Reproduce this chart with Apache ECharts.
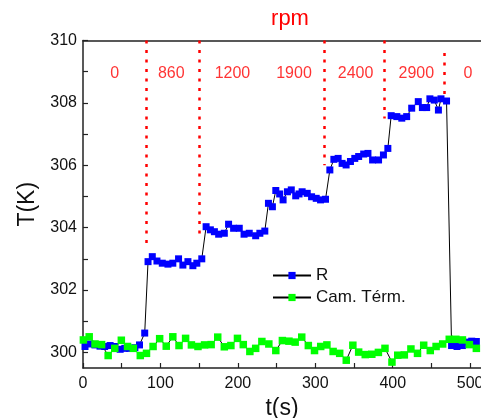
<!DOCTYPE html>
<html><head><meta charset="utf-8">
<script src="https://cdn.jsdelivr.net/npm/echarts@6/dist/echarts.min.js"></script>
<style>html,body{margin:0;padding:0;background:#fff}#c{width:481px;height:418px}</style>
</head><body><div id="c"></div>
<script>
const blueT = [2.6,9,15.4,22,28,35,41,48,54,60,67,73,79.7,
  84,89.5,95.5,102.4,109.7,116,123.4,129,135.5,141.9,147,153.4,
  159,164.5,169.7,175.2,182.5,188,194.5,201.8,208,214.7,223,228.4,234.8,
  239.5,244.6,249,254,258.4,264,269,274.7,279,283,289.6,295.2,301.2,306.8,313.2,
  318.8,324,329.5,334.6,339.8,345.4,351,356,362.5,368,374,381.7,388,393.7,
  398,405.3,411.7,418,424.5,433,438.3,443.8,448,453.7,459,462.3,469.5,
  476,483,490,496,502,508];
const blueV = [300.19,300.27,300.24,300.20,300.19,300.22,300.19,300.10,300.13,300.13,300.15,300.24,300.62,
  302.91,303.07,302.93,302.86,302.83,302.86,303.0,302.80,302.91,302.78,302.86,303.0,
  304.03,303.93,303.87,303.79,303.82,304.11,303.98,303.98,303.79,303.82,303.74,303.82,303.89,
  304.78,304.67,305.19,305.08,304.89,305.15,305.21,305.02,305.08,305.15,305.10,304.99,304.94,304.89,304.91,
  305.85,306.19,306.22,306.06,306.01,306.12,306.22,306.28,306.36,306.38,306.17,306.17,306.33,306.54,
  307.59,307.56,307.51,307.56,307.83,308.04,307.85,307.85,308.13,308.09,307.77,308.13,308.06,
  300.22,300.19,300.22,300.33,300.36,300.35];
const greenT = [0.5,8,15.5,24,32.5,41,49.5,57.5,65,74,82,90.5,99,107.5,116,124,132.5,140,148.5,157,165.5,174,182.5,191,199.5,207,215.5,223,231,240,249,257.5,266,274,282.5,291,299,307,315,323,331.5,340,348.5,356,364.5,373,381.5,390,399,406.5,415,423.5,432,440,448.5,456,464.5,473,481.5,490,499,508];
const greenV = [300.40,300.50,300.27,300.25,299.90,300.13,300.39,300.19,300.13,299.90,299.97,300.19,300.44,300.20,300.50,300.22,300.45,300.24,300.19,300.24,300.25,300.49,300.18,300.22,300.45,300.25,300.03,300.13,300.35,300.27,300.06,300.38,300.36,300.33,300.49,300.22,300.06,300.19,300.24,300.03,299.97,299.75,300.23,300.01,299.93,299.94,300.00,300.13,299.69,299.91,299.92,300.11,299.97,300.23,300.06,300.19,300.27,300.42,300.42,300.40,300.25,300.13];
const dividerT = [82,150.5,232,311,389.5,466.6];
const dividerTop = [310,310,310.3,310,310,309.6];
const dividerBottom = [303.5,303.6,304.5,306.0,307.5,308.25];
const rpmLabels = ['0','860','1200','1900','2400','2900','0'];
const rpmLabelT = [41,114,193,272.5,352,430.5,497];
const rpmLabelY = 308.93;
const xLabelTicks = [0,100,200,300,400,500];
const xMinorTicks = [0,50,100,150,200,250,300,350,400,450,500];
const yLabelTicks = [300,302,304,306,308,310];
const yMinorTicks = [300,301,302,303,304,305,306,307,308,309,310];

const font = 'Liberation Sans, Arial, sans-serif';
const chart = echarts.init(document.getElementById('c'));
const mk = (T,V)=>T.map((t,i)=>[t,V[i]]);
chart.setOption({
  animation:false,
  graphic:[{type:'text',x:290,y:8,style:{text:'rpm',fill:'#ff0000',font:'22px '+font,textAlign:'center'}}],
  grid:{left:83,right:0,top:40.5,bottom:50,containLabel:false,outerBoundsMode:'none'},
  legend:{data:['R','Cam. Térm.'],left:267,top:262,orient:'vertical',itemWidth:38,itemHeight:9,itemGap:5,
    textStyle:{fontFamily:font,fontSize:17,color:'#111'}},
  xAxis:[{type:'value',min:0,max:514,
    name:'t(s)',nameLocation:'middle',nameGap:26,nameTextStyle:{fontFamily:font,fontSize:23,color:'#111'},
    axisLine:{lineStyle:{color:'#222',width:1.5}},
    axisTick:{inside:true,length:5,customValues:xMinorTicks,lineStyle:{color:'#222',width:1.2}},
    axisLabel:{customValues:xLabelTicks,fontFamily:font,fontSize:16,color:'#111',margin:8},
    splitLine:{show:false}},
   {type:'value',position:'top',min:0,max:514,axisLine:{show:true,lineStyle:{color:'#222',width:1.5}},axisTick:{show:false},axisLabel:{show:false},splitLine:{show:false}}],
  yAxis:{type:'value',min:299.5,max:310,
    name:'T(K)',nameLocation:'middle',nameGap:44,nameTextStyle:{fontFamily:font,fontSize:23,color:'#111'},
    axisLine:{show:true,lineStyle:{color:'#222',width:1.5}},
    axisTick:{show:true,inside:true,length:5,customValues:yMinorTicks,lineStyle:{color:'#222',width:1.2}},
    axisLabel:{customValues:yLabelTicks,fontFamily:font,fontSize:16,color:'#111',margin:6},
    splitLine:{show:false}},
  series:[
    {name:'dividers',type:'line',data:[],markLine:{silent:true,symbol:'none',label:{show:false},
      lineStyle:{color:'#ff0000',width:2.5,type:[3,6.5]},
      data:dividerT.map((t,i)=>[{coord:[t,dividerTop[i]]},{coord:[t,dividerBottom[i]]}])}},
    {name:'R',type:'line',data:mk(blueT,blueV),symbol:'rect',symbolSize:7,
      itemStyle:{color:'#0000ff'},lineStyle:{color:'#000',width:1}},
    {name:'Cam. Térm.',type:'line',data:mk(greenT,greenV),symbol:'rect',symbolSize:7.5,
      itemStyle:{color:'#00ff00'},lineStyle:{color:'#000',width:1}},
    {name:'rpm',type:'scatter',symbolSize:0,silent:true,
      data:rpmLabels.map((s,i)=>({name:s,value:[rpmLabelT[i],rpmLabelY]})),
      label:{show:true,position:'inside',formatter:p=>p.name,color:'#ff0000',fontFamily:font,fontSize:16}}
  ]
});
</script></body></html>
